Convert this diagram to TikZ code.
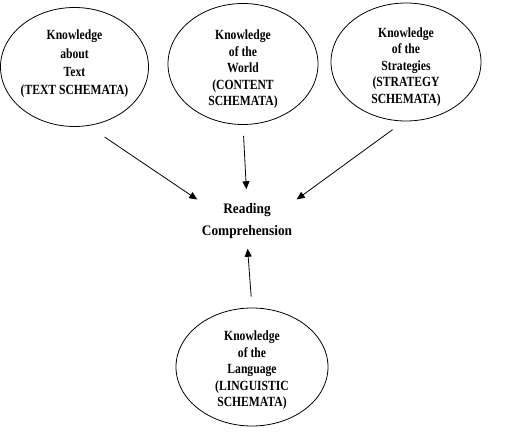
\documentclass[tikz,border=0pt]{standalone}
\usepackage{fontspec}
\setmainfont{Liberation Serif}
\newfontfamily\narrowfont{Liberation Serif}[FakeStretch=0.83]
\newfontfamily\midfont{Liberation Serif}[FakeStretch=0.92]
\usetikzlibrary{arrows.meta, positioning, shapes.geometric}

\begin{document}
\begin{tikzpicture}[
    x=1pt, y=-1pt,
    flow/.style={-{Triangle[length=8pt, width=7pt]}, line width=0.8pt, black},
    knowbox/.style={draw, ellipse, line width=0.8pt, align=center, inner sep=-12pt,
        minimum width=148pt, minimum height=119pt,
        font=\narrowfont\fontsize{14}{16.5}\selectfont\bfseries},
]
\useasboundingbox (0,0) rectangle (531,438);

% --- cuatro tipos de conocimiento ---
\node[knowbox] (text) at (74.5,67)
    {Knowledge\\[1.8pt] about\\[1.8pt] Text\\[1.8pt] (TEXT SCHEMATA)\\[-7.5pt]};
\node[knowbox, minimum width=150pt, minimum height=121pt] (world) at (243,64)
    {Knowledge\\ of the\\ World\\ (CONTENT\\ SCHEMATA)\\[-24.5pt]};
\node[knowbox, minimum width=150pt, minimum height=118pt] (strategy) at (406,62)
    {Knowledge\\ of the\\ Strategies\\ (STRATEGY\\ SCHEMATA)\\[-23.5pt]};
\node[knowbox, minimum width=152pt, minimum height=118pt] (language) at (252,367)
    {Knowledge\\ of the\\ Language\\ (LINGUISTIC\\ SCHEMATA)\\[-20.5pt]};

% centro
\node[align=center, inner sep=2pt, font=\midfont\fontsize{14.5}{22}\selectfont\bfseries] (reading) at (247,221)
    {Reading\\ Comprehension};

% flechas hacia la comprension
\draw[flow, shorten <=20pt, shorten >=3pt] (text.-77) -- (reading.north west);
\draw[flow, shorten <=11pt, shorten >=12pt] (world.south) -- (reading.north);
\draw[flow, shorten <=14pt, shorten >=3pt] (strategy.-92) -- (reading.north east);
\draw[flow, shorten <=11pt, shorten >=8pt] (language.north) -- (reading.south);

\end{tikzpicture}
\end{document}
